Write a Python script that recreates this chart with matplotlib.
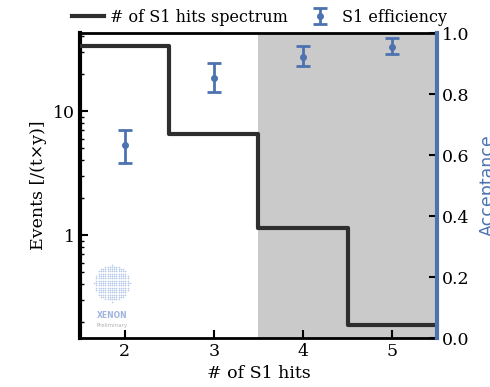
import numpy as np
import matplotlib
matplotlib.use("Agg")
import matplotlib.pyplot as plt

plt.rcParams['font.family'] = ['DejaVu Serif']
plt.rcParams['mathtext.fontset'] = 'dejavuserif'

# Spectrum of S1 hit multiplicity (events per tonne-year)
hits = [2, 3, 4, 5]
spectrum = [33.4, 6.5, 1.14, 0.19]

# S1 detection efficiency with asymmetric uncertainties
eff = [0.633, 0.851, 0.922, 0.955]
eff_lo = [0.575, 0.808, 0.892, 0.931]
eff_hi = [0.682, 0.903, 0.957, 0.985]

blue = '#4C72B0'

fig = plt.figure(figsize=(4.9, 3.87), dpi=100)
ax = fig.add_axes([0.163, 0.1266, 0.729, 0.788])

ax.axvspan(3.5, 5.5, color='#cacaca', zorder=0, lw=0)

xs = np.array(hits, dtype=float)
edges_x = np.concatenate([[xs[0] - 0.5], xs + 0.5])
edges_y = np.concatenate([spectrum, [spectrum[-1]]])
line, = ax.step(edges_x, edges_y, where='post', color='#2e2e2e', lw=3,
                label='# of S1 hits spectrum', zorder=3)

ax.set_yscale('log')
ax.set_xlim(1.5, 5.5)
ax.set_ylim(0.148, 42.5)
ax.set_xticks(hits)
ax.set_xlabel('# of S1 hits', fontsize=12.5)
ax.set_ylabel('Events [/(t×y)]', fontsize=12.5)
ax.tick_params(axis='both', which='both', direction='in', labelsize=12.5)
ax.tick_params(axis='both', which='major', length=6, width=1.5)
ax.tick_params(axis='y', which='minor', length=3, width=1)
ax.tick_params(axis='x', which='minor', bottom=False)
ax.set_yticks([1, 10])
ax.set_yticklabels(['1', '10'])
ax.spines['left'].set_linewidth(3)
ax.spines['bottom'].set_linewidth(2)
ax.spines['top'].set_linewidth(2)
ax.spines['right'].set_visible(False)

ax2 = ax.twinx()
yerr = [np.array(eff) - np.array(eff_lo), np.array(eff_hi) - np.array(eff)]
eb = ax2.errorbar(hits, eff, yerr=yerr, fmt='o', color=blue, ms=4,
                  capsize=5, elinewidth=2, capthick=2, label='S1 efficiency',
                  zorder=4)
ax2.set_ylim(0, 1)
ax2.set_yticks([0, 0.2, 0.4, 0.6, 0.8, 1.0])
ax2.tick_params(axis='y', direction='in', labelsize=12.5, length=6, width=1.5)
ax2.set_ylabel('Acceptance', color=blue, fontsize=12.5, labelpad=7,
               family='DejaVu Sans')
ax2.spines['right'].set_color(blue)
ax2.spines['right'].set_linewidth(3)
ax2.spines['left'].set_visible(False)
ax2.spines['top'].set_visible(False)
ax2.spines['bottom'].set_visible(False)

fig.legend([line, eb], ['# of S1 hits spectrum', 'S1 efficiency'],
           loc='center', bbox_to_anchor=(0.53, 0.955), ncol=2,
           frameon=False, fontsize=11.5, handlelength=2.0,
           columnspacing=1.0, handletextpad=0.4, borderpad=0.2)

# XENON preliminary watermark
cx, cy, r = 0.09, 0.18, 0.05
gx, gy = np.meshgrid(np.linspace(-1, 1, 17), np.linspace(-1, 1, 17))
mask = gx**2 + gy**2 <= 1.0
ax.scatter(cx + r * gx[mask], cy + r * 1.22 * gy[mask], s=1.4, color='#b4c8ea',
           transform=ax.transAxes, zorder=2, lw=0)
ax.text(cx, 0.075, 'XENON', transform=ax.transAxes, ha='center', va='center',
        fontsize=5.5, fontweight='bold', color='#9db5de', family='DejaVu Sans')
ax.text(cx, 0.04, 'Preliminary', transform=ax.transAxes, ha='center',
        va='center', fontsize=4, color='#b0b0b0', family='DejaVu Sans')

fig.savefig('out.png', dpi=100)
